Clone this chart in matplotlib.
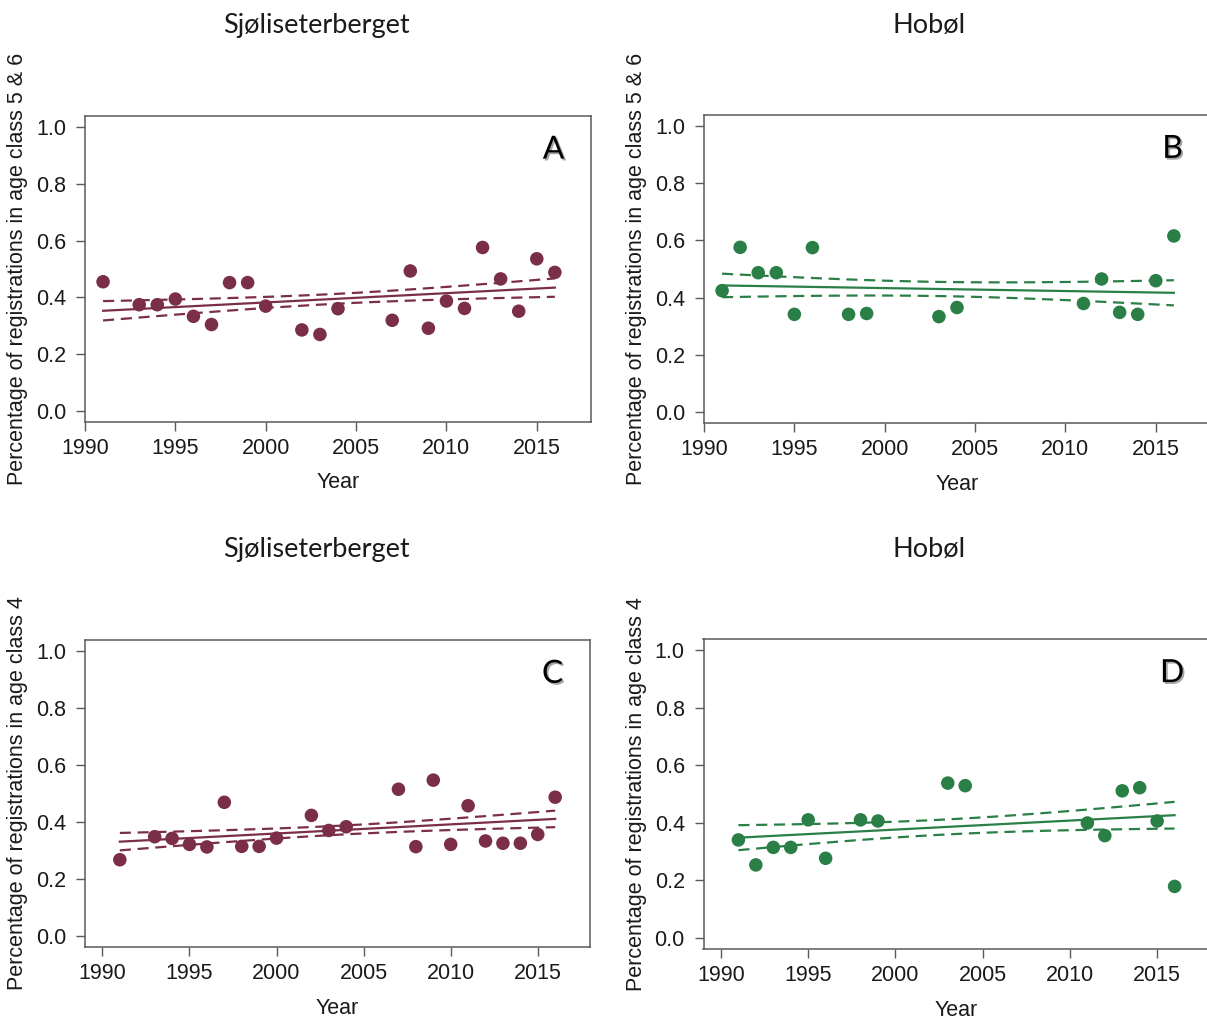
import numpy as np
import matplotlib
matplotlib.use("Agg")
import matplotlib.pyplot as plt
import matplotlib.patheffects as pe

plt.rcParams["font.family"] = ["Liberation Sans", "DejaVu Sans"]

# Share of registrations per year, two sites, two age groupings
years_sjo_56 = [1991, 1993, 1994, 1995, 1996, 1997, 1998, 1999, 2000, 2002, 2003,
                2004, 2007, 2008, 2009, 2010, 2011, 2012, 2013, 2014, 2015, 2016]
share_sjo_56 = [0.455, 0.374, 0.374, 0.394, 0.333, 0.304, 0.452, 0.452, 0.369, 0.285, 0.269,
                0.360, 0.319, 0.493, 0.291, 0.387, 0.361, 0.576, 0.465, 0.351, 0.536, 0.488]

years_hob_56 = [1991, 1992, 1993, 1994, 1995, 1996, 1998, 1999, 2003, 2004,
                2011, 2012, 2013, 2014, 2015, 2016]
share_hob_56 = [0.424, 0.576, 0.487, 0.487, 0.341, 0.575, 0.341, 0.344, 0.333, 0.365,
                0.379, 0.465, 0.348, 0.341, 0.459, 0.616]

years_sjo_4 = [1991, 1993, 1994, 1995, 1996, 1997, 1998, 1999, 2000, 2002, 2003,
               2004, 2007, 2008, 2009, 2010, 2011, 2012, 2013, 2014, 2015, 2016]
share_sjo_4 = [0.267, 0.348, 0.342, 0.321, 0.312, 0.469, 0.314, 0.314, 0.343, 0.423, 0.370,
               0.383, 0.515, 0.313, 0.547, 0.321, 0.457, 0.333, 0.325, 0.325, 0.356, 0.487]

years_hob_4 = [1991, 1992, 1993, 1994, 1995, 1996, 1998, 1999, 2003, 2004,
               2011, 2012, 2013, 2014, 2015, 2016]
share_hob_4 = [0.340, 0.253, 0.314, 0.314, 0.410, 0.276, 0.410, 0.406, 0.538, 0.529,
               0.399, 0.355, 0.511, 0.522, 0.406, 0.178]

site_names = ["Sjøliseterberget", "Hobøl"]
ylabels = ["Percentage of registrations in age class 5 & 6",
           "Percentage of registrations in age class 4"]
panel_letters = ["A", "B", "C", "D"]

maroon = "#7b2e48"
green = "#2a7f46"
spine_col = "#5a5a5a"
text_col = "#1a1a1a"

W, H = 1207, 1019
fig = plt.figure(figsize=(W / 100, H / 100), dpi=100)

# axes boxes in pixels: left, right, top, bottom
boxes = [(85, 591, 116, 422), (704, 1210, 115, 423),
         (85, 590, 640, 947), (703.5, 1209.5, 639, 949)]
xlims = [(1990, 2018), (1990, 2018), (1989, 2018), (1989, 2018)]
series = [(years_sjo_56, share_sjo_56, maroon), (years_hob_56, share_hob_56, green),
          (years_sjo_4, share_sjo_4, maroon), (years_hob_4, share_hob_4, green)]


def fit_with_se(x, y):
    x = np.asarray(x, float)
    y = np.asarray(y, float)
    slope, icept = np.polyfit(x, y, 1)
    resid = y - (icept + slope * x)
    n = len(x)
    s = np.sqrt(np.sum(resid ** 2) / (n - 2))
    sxx = np.sum((x - x.mean()) ** 2)
    xs = np.linspace(x.min(), x.max(), 100)
    fit = icept + slope * xs
    se = s * np.sqrt(1 / n + (xs - x.mean()) ** 2 / sxx)
    return xs, fit, se


for i, (box, xl, (yrs, vals, col)) in enumerate(zip(boxes, xlims, series)):
    l, r, t, b = box
    ax = fig.add_axes([l / W, 1 - b / H, (r - l) / W, (b - t) / H])
    xs, fit, se = fit_with_se(yrs, vals)
    ax.plot(xs, fit, color=col, lw=1.6)
    ax.plot(xs, fit + se, color=col, lw=1.6, ls=(0, (5, 3)))
    ax.plot(xs, fit - se, color=col, lw=1.6, ls=(0, (5, 3)))
    ax.scatter(yrs, vals, s=95, color=col, edgecolors="none", zorder=3)

    ax.set_xlim(*xl)
    ax.set_ylim(-0.04, 1.04)
    ax.set_xticks([1990, 1995, 2000, 2005, 2010, 2015])
    ax.set_yticks([0.0, 0.2, 0.4, 0.6, 0.8, 1.0])
    ax.set_yticklabels(["0.0", "0.2", "0.4", "0.6", "0.8", "1.0"])
    ax.tick_params(direction="out", length=6.5, width=1.0, color=spine_col,
                   labelsize=15.5, labelcolor=text_col)
    ax.tick_params(axis="y", pad=7)
    ax.tick_params(axis="x", pad=5)
    for sp in ax.spines.values():
        sp.set_color(spine_col)
        sp.set_linewidth(1.1)

    ax.set_xlabel("Year", fontsize=15.5, color=text_col)
    ax.xaxis.set_label_coords(0.5, -0.165)
    ax.set_ylabel(ylabels[i // 2], fontsize=15.5, color=text_col)
    ax.yaxis.set_label_coords(-0.112, 0.5)

    ax.text(0.926, 0.89, panel_letters[i], transform=ax.transAxes, ha="center", va="center",
            fontsize=23, family="Lato", color="black",
            path_effects=[pe.SimplePatchShadow(offset=(1.3, -1.3), alpha=0.35), pe.Normal()])

# site titles above each column
title_pos = [(316, 25), (929, 25), (316, 550), (929, 550)]
for i, (tx, ty) in enumerate(title_pos):
    fig.text(tx / W, 1 - ty / H, site_names[i % 2], ha="center", va="center",
             fontsize=19.5, family="Lato", color=text_col)

fig.savefig("out.png", dpi=100)
